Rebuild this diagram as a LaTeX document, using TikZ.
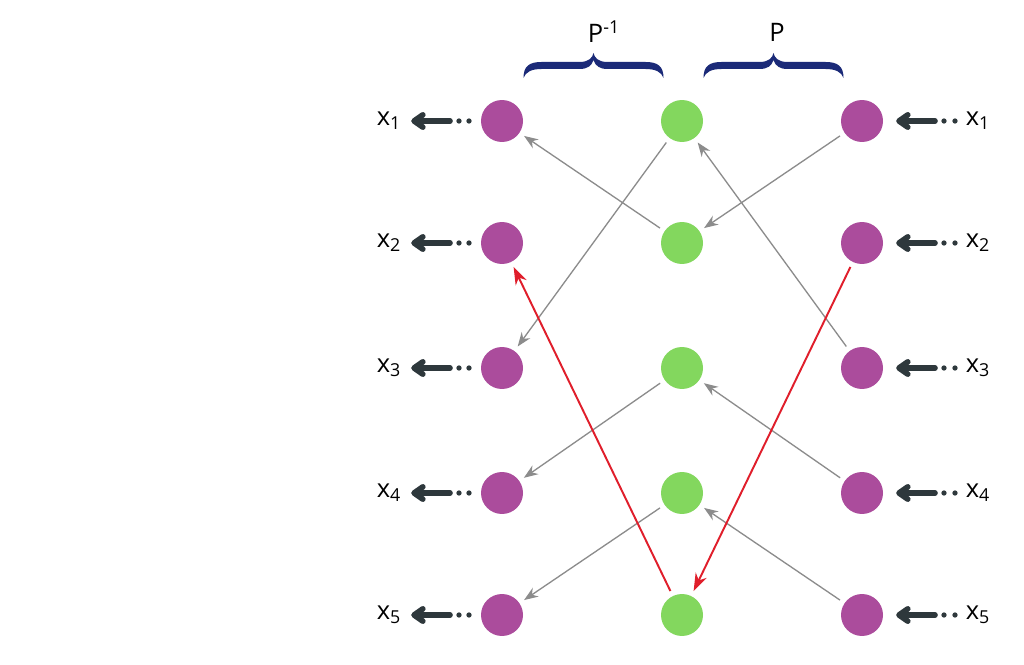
\documentclass[tikz,border=0pt]{standalone}
\usepackage{fontspec}
\setmainfont{Open Sans}
\usetikzlibrary{arrows.meta}

\definecolor{dotpurple}{HTML}{AB4C9C}
\definecolor{dotgreen}{HTML}{83D75E}
\definecolor{bracenavy}{HTML}{1B2A78}
\definecolor{arrowdark}{HTML}{2E383C}
\definecolor{linkgray}{HTML}{8C8C8C}
\definecolor{linkred}{HTML}{E01E2B}

\begin{document}
\begin{tikzpicture}[x = 0.02cm, y = -0.02cm, > = {Stealth[length = 8pt, width = 6pt]},
	vertex/.style = {circle, minimum size = 0.84cm, inner sep = 0pt},
	link/.style = {->, linkgray, line width = 0.75pt, shorten < = 3pt, shorten > = 3pt},
	hot/.style = {-{Stealth[length = 10pt, width = 7pt]}, linkred, line width = 1.1pt, shorten < = 3pt, shorten > = 3pt},
	feed/.style = {-{Straight Barb[length = 5pt, width = 7pt, round]}, arrowdark, line width = 3.2pt, line cap = round},
	curly/.pic = {
		\fill [bracenavy] (-70, 0) .. controls (-70, -12) and (-64, -16) .. (-52, -16) -- (-14, -16)
			.. controls (-5, -16) and (-1, -20) .. (0, -25) .. controls (1, -20) and (5, -16) .. (14, -16)
			-- (52, -16) .. controls (64, -16) and (70, -12) .. (70, 0)
			.. controls (68, -6) and (62, -9) .. (52, -9) -- (14, -9)
			.. controls (6, -9) and (2, -12) .. (0, -18) .. controls (-2, -12) and (-6, -9) .. (-14, -9)
			-- (-52, -9) .. controls (-62, -9) and (-68, -6) .. (-70, 0) -- cycle;
	},
	font = \fontsize{14.5}{16}\selectfont]

	\useasboundingbox [fill = white] (0, 0) rectangle (1024, 665);

	% The three columns of dots

	\foreach \i/\y in {1/121, 2/243, 3/368, 4/493, 5/615} {
		\node [vertex, fill = dotpurple] (l\i) at (502, \y) {};
		\node [vertex, fill = dotgreen] (m\i) at (682, \y) {};
		\node [vertex, fill = dotpurple] (r\i) at (862, \y) {};

		% Inputs and outputs x_i

		\node [inner sep = 0pt] (xl\i) at (389, \y) {x\textsubscript{\i}};
		\node [inner sep = 0pt] (xr\i) at (978, \y) {x\textsubscript{\i}};
		\coordinate (fl\i) at (450, \y);
		\coordinate (fr\i) at (935, \y);
		\draw [feed, shorten > = 5.5pt] (fl\i) -- (xl\i);
		\draw [feed, shorten > = 7.3pt] (fr\i) -- (r\i);
		\fill [arrowdark] (459, \y) circle (1.5pt) (469, \y) circle (1.5pt);
		\fill [arrowdark] (944, \y) circle (1.5pt) (955, \y) circle (1.5pt);
	}

	% Braces for the two permutations

	\pic at (593.5, 78) {curly};
	\pic at (773.5, 78) {curly};
	\node (pinv) at (604, 32) {P\textsuperscript{-1}};
	\node (p) at (777, 32) {P};

	% Links of P^{-1}

	\draw [link] (m2) -- (l1);
	\draw [link] (m1) -- (l3);
	\draw [link] (m3) -- (l4);
	\draw [link] (m4) -- (l5);

	% Links of P

	\draw [link] (r1) -- (m2);
	\draw [link] (r3) -- (m1);
	\draw [link] (r4) -- (m3);
	\draw [link] (r5) -- (m4);

	% Highlighted pair

	\draw [hot] (m5) -- (l2);
	\draw [hot] (r2) -- (m5);

\end{tikzpicture}
\end{document}
